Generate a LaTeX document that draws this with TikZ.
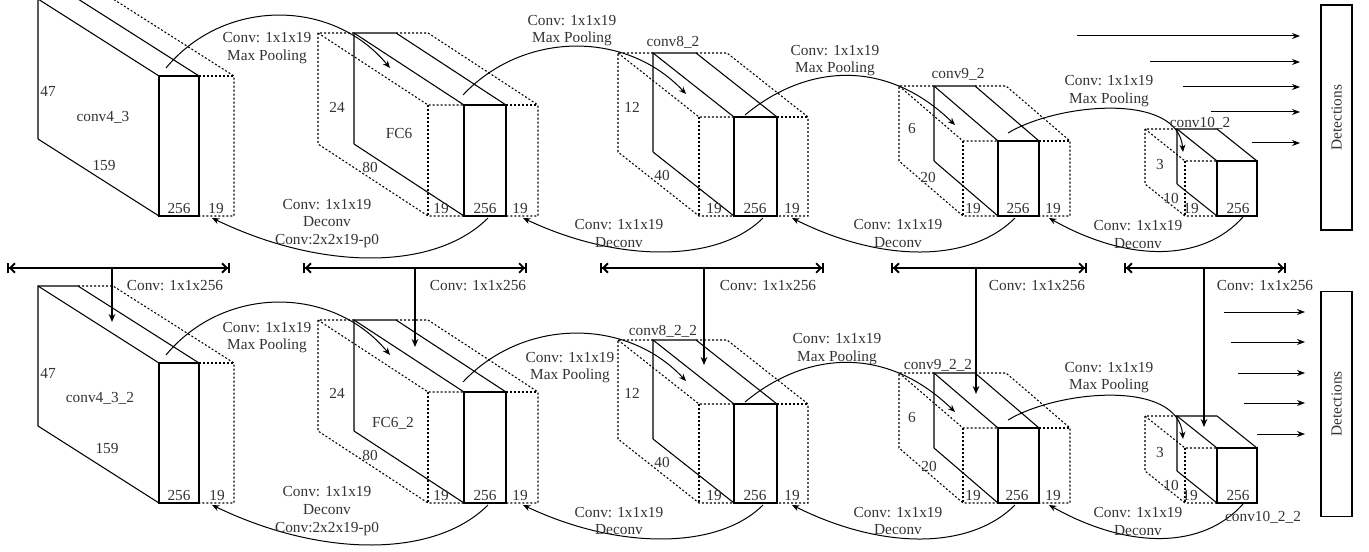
\documentclass[tikz,border=0pt]{standalone}
\usepackage{fontspec}
\setmainfont{Liberation Serif}
\usetikzlibrary{arrows.meta}
\newcommand\lblfont{\fontsize{11.5}{13.2}\selectfont}
\tikzset{
  solidline/.style={line width=0.8pt, line join=miter},
  dotline/.style={line width=0.8pt, dash pattern=on 1.5pt off 1.5pt},
  arcline/.style={line width=0.75pt, -{Stealth[length=5.5pt,width=4.5pt]}},
  detarrow/.style={line width=0.75pt, -{Stealth[length=6pt,width=4.5pt]}},
  spanarrow/.style={line width=1.4pt, {Bar[width=8pt]Straight Barb[length=3.5pt,width=7pt]}-{Straight Barb[length=3.5pt,width=7pt]Bar[width=8pt]}},
  downarrow/.style={line width=1.1pt, -{Stealth[length=6pt,width=5pt]}},
  lbl/.style={inner sep=0pt, text=black!80},
  mlbl/.style={lbl, align=center},
  detbox/.style={draw, line width=0.8pt, rotate=90, minimum width=168.75pt, minimum height=23.25pt, inner sep=0pt, text=black!80},
}
% name, x, y, w, dx, dy, h, left ext, right ext
\newcommand\prism[9]{%
\begin{scope}[shift={(#2,#3)}]
 \coordinate (#1-btl) at (0,0);
 \coordinate (#1-btr) at (#4,0);
 \coordinate (#1-bbl) at (0,#7);
 \coordinate (#1-ftl) at (#5,#6);
 \coordinate (#1-ftr) at ({#5+#4},#6);
 \coordinate (#1-fbl) at (#5,{#6+#7});
 \coordinate (#1-fbr) at ({#5+#4},{#6+#7});
 \ifdim #8pt>0pt
  \draw[dotline] (0,0) -- ({-#8},0) -- ({-#8},#7) -- ({#5-#8},{#6+#7}) -- (#5,{#6+#7});
  \draw[dotline] ({-#8},0) -- ({#5-#8},#6) -- (#5,#6);
  \draw[dotline] ({#5-#8},#6) -- ({#5-#8},{#6+#7});
 \fi
 \ifdim #9pt>0pt
  \draw[dotline] (#4,0) -- ({#4+#9},0) -- ({#4+#9+#5},#6) -- ({#4+#9+#5},{#6+#7}) -- ({#4+#5},{#6+#7});
  \draw[dotline] ({#4+#5},#6) -- ({#4+#9+#5},#6);
 \fi
 \draw[solidline] (#1-bbl) -- (#1-btl) -- (#1-btr) -- (#1-ftr);
 \draw[solidline] (#1-btl) -- (#1-ftl);
 \draw[solidline] (#1-bbl) -- (#1-fbl);
 \draw[solidline] (#1-ftl) rectangle (#1-fbr);
\end{scope}}
\newcommand\rowdraw[1]{%
 \prism{#1b1}{38}{-1}{40}{121}{77}{140}{0}{35}
 \prism{#1b2}{354}{33}{42}{110}{72}{111}{36}{32}
 \prism{#1b3}{653}{53}{43}{81}{64}{99}{35}{31}
 \prism{#1b4}{934}{86}{41}{64}{55}{75}{35}{31}
 \prism{#1b5}{1177}{129}{40}{40}{32}{55}{32}{0}
 % max pooling arcs
 \coordinate (#1m1s) at (166,68);  \coordinate (#1m1e) at (390,68);
 \coordinate (#1m2s) at (463,95);  \coordinate (#1m2e) at (686,94);
 \coordinate (#1m3s) at (745,115); \coordinate (#1m3e) at (955,125);
 \coordinate (#1m4s) at (1008,133); \coordinate (#1m4e) at (1183,152);
 \draw[arcline] (#1m1s) .. controls +(58,-70) and +(-58,-70) .. (#1m1e);
 \draw[arcline] (#1m2s) .. controls +(60,-64) and +(-60,-64) .. (#1m2e);
 \draw[arcline] (#1m3s) .. controls +(60,-50) and +(-70,-68) .. (#1m3e);
 \draw[arcline] (#1m4s) .. controls +(50,-30) and +(-5,-60) .. (#1m4e);
 % deconv arcs
 \coordinate (#1a1s) at (488,218);  \coordinate (#1a1e) at (212,218);
 \coordinate (#1a2s) at (763,218);  \coordinate (#1a2e) at (523,218);
 \coordinate (#1a3s) at (1015,218); \coordinate (#1a3e) at (792,218);
 \coordinate (#1a4s) at (1243,217); \coordinate (#1a4e) at (1049,218);
 \draw[arcline] (#1a1s) .. controls +(-53,53) and +(110,53) .. (#1a1e);
 \draw[arcline] (#1a2s) .. controls +(-45,45) and +(95,45) .. (#1a2e);
 \draw[arcline] (#1a3s) .. controls +(-45,45) and +(90,45) .. (#1a3e);
 \draw[arcline] (#1a4s) .. controls +(-40,45) and +(80,45) .. (#1a4e);
}
\begin{document}
\begin{tikzpicture}[x=0.75pt, y=-0.75pt, font=\lblfont]
\useasboundingbox (0,0) rectangle (1369,552);
\begin{scope}\rowdraw{t}\end{scope}
\begin{scope}[shift={(0,287)}]\rowdraw{b}\end{scope}

% ---------- top row labels ----------
\node[lbl] (t1a) at (48,91) {47};
\node[lbl] (t1b) at (103,117) {conv4\_3};
\node[lbl] (t1c) at (104,166) {159};
\node[lbl] (t1d) at (179,208) {256};
\node[lbl] (t1e) at (216,208) {19};
\node[lbl] (t2a) at (337,107) {24};
\node[lbl] (t2b) at (399,133) {FC6};
\node[lbl] (t2c) at (370,167) {80};
\node[lbl] (t2d) at (441,208) {19};
\node[lbl] (t2e) at (485,208) {256};
\node[lbl] (t2f) at (520,208) {19};
\node[lbl] (t3a) at (673,42) {conv8\_2};
\node[lbl] (t3b) at (632,107) {12};
\node[lbl] (t3c) at (662,175) {40};
\node[lbl] (t3d) at (714,208) {19};
\node[lbl] (t3e) at (755,208) {256};
\node[lbl] (t3f) at (792,208) {19};
\node[lbl] (t4a) at (958,74) {conv9\_2};
\node[lbl] (t4b) at (912,129) {6};
\node[lbl] (t4c) at (928,177) {20};
\node[lbl] (t4d) at (973,208) {19};
\node[lbl] (t4e) at (1018,208) {256};
\node[lbl] (t4f) at (1053,208) {19};
\node[lbl] (t5a) at (1200,123) {conv10\_2};
\node[lbl] (t5b) at (1160,165) {3};
\node[lbl] (t5c) at (1171,198) {10};
\node[lbl] (t5d) at (1191,208) {19};
\node[lbl] (t5e) at (1238,208) {256};

\node[mlbl] (tL1) at (267,48) {Conv: 1x1x19\\Max Pooling};
\node[mlbl] (tL2) at (572,30.5) {Conv: 1x1x19\\Max Pooling};
\node[mlbl] (tL3) at (835,60.5) {Conv: 1x1x19\\Max Pooling};
\node[mlbl] (tL4) at (1109,91) {Conv: 1x1x19\\Max Pooling};
\node[mlbl] (tD1) at (327,223.5) {Conv: 1x1x19\\Deconv\\Conv:2x2x19-p0};
\node[mlbl] (tD2) at (619,233.5) {Conv: 1x1x19\\Deconv};
\node[mlbl] (tD3) at (898,233.5) {Conv: 1x1x19\\Deconv};
\node[mlbl] (tD4) at (1138,234.5) {Conv: 1x1x19\\Deconv};

% top detections
\node[detbox] (tdet) at (1336.5,117.5) {Detections};
\foreach \i/\xs/\yy in {1/1077/36, 2/1150/62, 3/1183/87, 4/1211/112, 5/1252/143}{
  \coordinate (tds\i) at (\xs,\yy);
  \coordinate (tde\i) at (1300,\yy);
  \draw[detarrow] (tds\i) -- (tde\i);
}

% ---------- bottom row labels ----------
\node[lbl] (b1a) at (48,373) {47};
\node[lbl] (b1b) at (100,398) {conv4\_3\_2};
\node[lbl] (b1c) at (107,448) {159};
\node[lbl] (b1d) at (179,495) {256};
\node[lbl] (b1e) at (217,495) {19};
\node[lbl] (b2a) at (337,393) {24};
\node[lbl] (b2b) at (393,423) {FC6\_2};
\node[lbl] (b2c) at (370,455) {80};
\node[lbl] (b2d) at (441,495) {19};
\node[lbl] (b2e) at (485,495) {256};
\node[lbl] (b2f) at (520,495) {19};
\node[lbl] (b3a) at (663,331) {conv8\_2\_2};
\node[lbl] (b3b) at (632,393) {12};
\node[lbl] (b3c) at (662,462) {40};
\node[lbl] (b3d) at (714,495) {19};
\node[lbl] (b3e) at (755,495) {256};
\node[lbl] (b3f) at (792,495) {19};
\node[lbl] (b4a) at (938,365) {conv9\_2\_2};
\node[lbl] (b4b) at (912,417) {6};
\node[lbl] (b4c) at (929,466) {20};
\node[lbl] (b4d) at (973,495) {19};
\node[lbl] (b4e) at (1017,495) {256};
\node[lbl] (b4f) at (1053,495) {19};
\node[lbl] (b5b) at (1160,452) {3};
\node[lbl] (b5c) at (1171,485) {10};
\node[lbl] (b5d) at (1190,495) {19};
\node[lbl] (b5e) at (1238,495) {256};
\node[lbl] (b5a) at (1263,517) {conv10\_2\_2};

\node[mlbl] (bL1) at (267,337.5) {Conv: 1x1x19\\Max Pooling};
\node[mlbl] (bL2) at (570,367.5) {Conv: 1x1x19\\Max Pooling};
\node[mlbl] (bL3) at (837,349) {Conv: 1x1x19\\Max Pooling};
\node[mlbl] (bL4) at (1109,377.5) {Conv: 1x1x19\\Max Pooling};
\node[mlbl] (bD1) at (327,511) {Conv: 1x1x19\\Deconv\\Conv:2x2x19-p0};
\node[mlbl] (bD2) at (619,521) {Conv: 1x1x19\\Deconv};
\node[mlbl] (bD3) at (898,521) {Conv: 1x1x19\\Deconv};
\node[mlbl] (bD4) at (1138,521.5) {Conv: 1x1x19\\Deconv};

% span arrows between rows with Conv 1x1x256
\foreach \i/\xa/\xb/\xm/\ye/\xl in {1/7/230/112/322/175, 2/303/527/415/347/478, 3/600/824/704/365/768, 4/891/1087/976/394/1037, 5/1124/1286/1204/427/1265}{
  \coordinate (sl\i) at (\xa,268);
  \coordinate (sr\i) at (\xb,268);
  \coordinate (sm\i) at (\xm,268);
  \coordinate (se\i) at (\xm,\ye);
  \draw[spanarrow] (sl\i) -- (sr\i);
  \draw[downarrow] (sm\i) -- (se\i);
  \node[lbl] (sc\i) at (\xl,286) {Conv: 1x1x256};
}

% bottom detections
\node[detbox] (bdet) at (1336.5,404) {Detections};
\foreach \i/\xs/\yy in {1/1224/312, 2/1231/342, 3/1238/373, 4/1244/403, 5/1257/434}{
  \coordinate (bds\i) at (\xs,\yy);
  \coordinate (bde\i) at (1305,\yy);
  \draw[detarrow] (bds\i) -- (bde\i);
}
\end{tikzpicture}
\end{document}
